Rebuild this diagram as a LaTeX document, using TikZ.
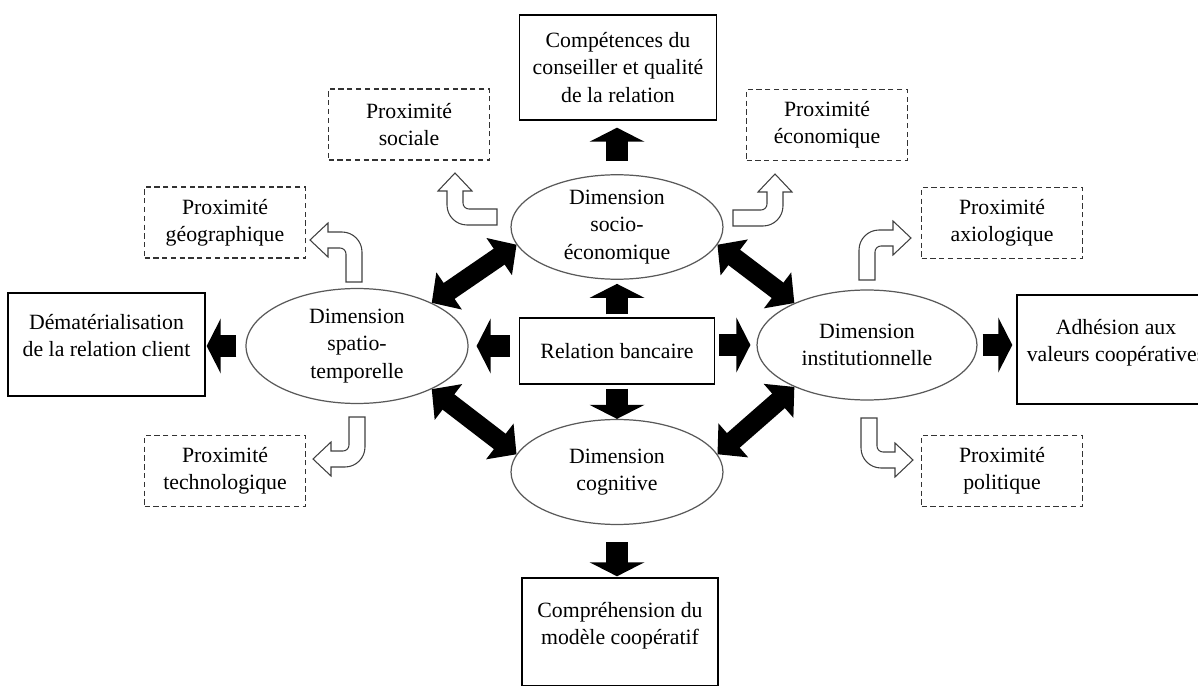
\documentclass[tikz,border=0pt]{standalone}
\usepackage{fontspec}
\setmainfont{Liberation Serif}
\usetikzlibrary{shapes.geometric,arrows.meta}

\begin{document}
\begin{tikzpicture}[x=0.02cm,y=-0.02cm,every node/.style={align=center,inner sep=0,font=\fontsize{12.4}{15.6}\selectfont},
box/.style={shape=rectangle,draw=black,line width=0.8pt},
raised/.style={text depth=10pt},
prox/.style={shape=rectangle,draw=black!80,line width=0.6pt,dash pattern=on 3pt off 2pt,minimum width=3.22cm,minimum height=1.42cm},
dim/.style={shape=ellipse,draw=black!65,line width=0.7pt},
blk/.style={line width=12.5pt,-{Triangle[width=31pt,length=8pt]}},
dbl/.style={line width=11pt,{Triangle[width=25pt,length=12pt]}-{Triangle[width=25pt,length=12pt]}},
bend arrow/.pic={\draw[draw=black!75,line width=0.6pt,fill=white] (0,0) -- (0,30) .. controls (0,41) and (9,50) .. (20,50) -- (34,50) -- (34,59) -- (52,42) -- (34,25) -- (34,34) -- (22,34) .. controls (18.7,34) and (16,31.3) .. (16,28) -- (16,0) -- cycle;}]
\useasboundingbox (0,0) rectangle (1198,686);

% centre
\node[box,minimum width=3.9cm,minimum height=1.32cm] (rel) at (617,351) {Relation bancaire};
\node[dim,minimum width=4.24cm,minimum height=2.08cm] (soc) at (617,227) {Dimension\\socio-\\économique};
\node[dim,minimum width=4.44cm,minimum height=2.3cm] (spa) at (357,346) {Dimension\\spatio-\\temporelle};
\node[dim,minimum width=4.4cm,minimum height=2.2cm] (ins) at (867,345) {Dimension\\institutionnelle};
\node[dim,minimum width=4.24cm,minimum height=2.1cm] (cog) at (617,472) {Dimension\\cognitive};

% outer boxes
\node[box,minimum width=3.94cm,minimum height=2.1cm] (comp) at (618,67.5) {Compétences du\\conseiller et qualité\\de la relation};
\node[box,raised,minimum width=3.94cm,minimum height=2.06cm] (dem) at (106.5,344.5) {Dématérialisation\\de la relation client};
\node[box,raised,minimum width=3.96cm,minimum height=2.18cm] (adh) at (1116,349.5) {Adhésion aux\\valeurs coopératives};
\node[box,raised,minimum width=3.92cm,minimum height=2.16cm] (cmp) at (620,632) {Compréhension du\\modèle coopératif};

% proximites
\node[prox] (psoc) at (409,124.5) {Proximité\\sociale};
\node[prox] (peco) at (827,125) {Proximité\\économique};
\node[prox] (pgeo) at (225,222.5) {Proximité\\géographique};
\node[prox] (paxi) at (1002,223) {Proximité\\axiologique};
\node[prox] (ptec) at (225,471) {Proximité\\technologique};
\node[prox] (ppol) at (1002,471) {Proximité\\politique};

% white bent arrows
\pic at (497,225) [cm={0,1,1,0,(0,0)}] {bend arrow};
\pic at (733,226) [rotate=90] {bend arrow};
\pic at (362,282) [rotate=180] {bend arrow};
\pic at (859,280) [yscale=-1] {bend arrow};
\pic at (365,417) [xscale=-1] {bend arrow};
\pic at (861,418) {bend arrow};

% black arrows
\draw[blk,shorten <=0.06cm,shorten >=0.08cm] (rel.north) -- (soc.south);
\draw[blk,shorten <=0.26cm,shorten >=0.14cm] (soc.north) -- (soc.north |- comp.south);
\draw[blk,shorten <=0.18cm,shorten >=0.16cm] (rel.west |- spa.east) -- (spa.east);
\draw[blk,shorten <=0.18cm,shorten >=0.02cm] (spa.west) -- (spa.west -| dem.east);
\draw[blk,shorten <=0.08cm,shorten >=0.12cm] (rel.east |- ins.west) -- (ins.west);
\draw[blk,shorten <=0.1cm,shorten >=0.08cm] (ins.east) -- (ins.east -| adh.west);
\draw[blk,shorten <=0.08cm] (rel.south) -- (cog.north);
\draw[blk,shorten <=0.34cm,shorten >=0.02cm] (cog.south) -- (cog.south |- cmp.north);

\draw[dbl] (spa.30) -- (soc.190);
\draw[dbl] (soc.350) -- (ins.150);
\draw[dbl] (spa.330) -- (cog.170);
\draw[dbl] (cog.10) -- (ins.210);

\end{tikzpicture}
\end{document}
